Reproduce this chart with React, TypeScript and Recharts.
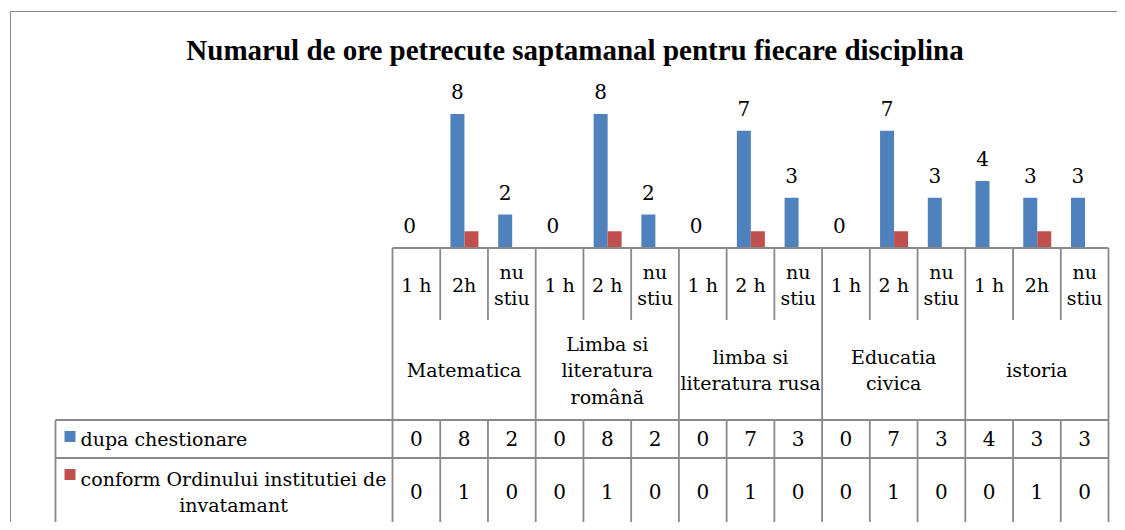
import React from 'react';
import { BarChart, Bar, XAxis, YAxis, LabelList } from 'recharts';

const title = 'Numarul de ore petrecute saptamanal pentru fiecare disciplina';
const groups = ['Matematica', 'Limba si\nliteratura\nromână', 'limba si\nliteratura rusa', 'Educatia\ncivica', 'istoria'];
const subLabels = [
  '1 h', '2h', 'nu\nstiu',
  '1 h', '2 h', 'nu\nstiu',
  '1 h', '2 h', 'nu\nstiu',
  '1 h', '2 h', 'nu\nstiu',
  '1 h', '2h', 'nu\nstiu',
];
const dupaChestionare = [0, 8, 2, 0, 8, 2, 0, 7, 3, 0, 7, 3, 4, 3, 3];
const conformOrdinului = [0, 1, 0, 0, 1, 0, 0, 1, 0, 0, 1, 0, 0, 1, 0];
const seriesNames = ['dupa chestionare', 'conform Ordinului institutiei de\ninvatamant'];

const BLUE = '#4F81BD';
const RED = '#C0504D';
const GRID = '#898989';
const TITLE_FONT = "'Liberation Serif', 'Times New Roman', serif";
const SVG_FONT = 'DejaVu Serif';
const TEXT_SIZE = 19;
const NUM_SIZE = 20;

const data = subLabels.map((label, i) => ({
  id: i,
  label,
  group: groups[Math.floor(i / 3)],
  chest: dupaChestionare[i],
  ordin: conformOrdinului[i],
}));

// rows of the table under the axis, measured from the axis line
const SUB_BOTTOM = 72;
const TABLE_TOP = 172;
const ROW2_TOP = 210;
const TABLE_BOTTOM = 278;
const LEGEND_LEFT = 47.5;
const LINE_H = 26.5;

function Lines({ x, y, text, anchor = 'middle', size = TEXT_SIZE }: any) {
  const parts = text.split('\n');
  const start = y - ((parts.length - 1) * LINE_H) / 2;
  return (
    <>
      {parts.map((p: string, k: number) => (
        <text key={k} x={x} y={start + k * LINE_H} textAnchor={anchor} dominantBaseline="central"
          fontFamily={SVG_FONT} fontSize={size} fill="#000">{p}</text>
      ))}
    </>
  );
}

function TableTick(props: any) {
  const { x, y, payload } = props;
  const i = payload.index;
  const half = payload.offset;
  const left = x - half;
  const right = x + half;
  const row = data[i];
  const line = (x1: number, y1: number, x2: number, y2: number, k: string) => (
    <line key={k} x1={x1} y1={y1} x2={x2} y2={y2} stroke={GRID} strokeWidth={1.8} />
  );
  const els: any[] = [];
  // vertical lines: full height at group edges, broken inside a group
  if (i % 3 === 0) {
    els.push(line(left, y, left, y + TABLE_BOTTOM, 'vl'));
  } else {
    els.push(line(left, y, left, y + SUB_BOTTOM, 'vs'));
    els.push(line(left, y + TABLE_TOP, left, y + TABLE_BOTTOM, 'vt'));
  }
  if (i === data.length - 1) els.push(line(right, y, right, y + TABLE_BOTTOM, 'vr'));
  els.push(line(left, y + TABLE_TOP, right, y + TABLE_TOP, 'h1'));
  els.push(line(left, y + ROW2_TOP, right, y + ROW2_TOP, 'h2'));
  els.push(line(left, y + TABLE_BOTTOM, right, y + TABLE_BOTTOM, 'h3'));

  if (i === 0) {
    els.push(line(LEGEND_LEFT, y + TABLE_TOP, left, y + TABLE_TOP, 'l1'));
    els.push(line(LEGEND_LEFT, y + ROW2_TOP, left, y + ROW2_TOP, 'l2'));
    els.push(line(LEGEND_LEFT, y + TABLE_BOTTOM, left, y + TABLE_BOTTOM, 'l3'));
    els.push(line(LEGEND_LEFT, y + TABLE_TOP, LEGEND_LEFT, y + TABLE_BOTTOM, 'l4'));
  }

  return (
    <g>
      {els}
      <Lines x={x} y={y + 37} text={row.label} />
      {i % 3 === 1 && <Lines x={x} y={y + 122} text={row.group} />}
      <Lines x={x} y={y + (TABLE_TOP + ROW2_TOP) / 2} text={String(row.chest)} size={NUM_SIZE} />
      <Lines x={x} y={y + (ROW2_TOP + TABLE_BOTTOM) / 2} text={String(row.ordin)} size={NUM_SIZE} />
      {i === 0 && (
        <g>
          <rect x={LEGEND_LEFT + 9} y={y + TABLE_TOP + 11} width={11} height={11} fill={BLUE} />
          <Lines x={LEGEND_LEFT + 25} y={y + (TABLE_TOP + ROW2_TOP) / 2} text={seriesNames[0]} anchor="start" />
          <rect x={LEGEND_LEFT + 9} y={y + ROW2_TOP + 11} width={11} height={11} fill={RED} />
          <Lines x={LEGEND_LEFT + 178} y={y + (ROW2_TOP + TABLE_BOTTOM) / 2} text={seriesNames[1]} />
        </g>
      )}
    </g>
  );
}

export default function App() {
  return (
    <div style={{ position: 'relative', width: 1117, height: 522, overflow: 'hidden', marginBottom: -8, background: '#fff' }}>
      <div style={{ position: 'absolute', left: 2, top: 3, width: 1300, height: 700, border: `1.5px solid ${GRID}` }} />
      <div style={{ position: 'absolute', left: 0, top: 25, width: 1134, textAlign: 'center', fontFamily: TITLE_FONT,
        fontWeight: 'bold', fontSize: 29, lineHeight: '34px', color: '#000' }}>{title}</div>
      <div style={{ position: 'absolute', left: 0, top: 0 }}>
        <BarChart width={1117} height={522} data={data} barCategoryGap="21.4%" barGap={0}
          margin={{ top: 106, right: 16.5, left: 384.5, bottom: 0 }}>
          <XAxis dataKey="id" height={282} interval={0} tickLine={false} tickSize={0} tickMargin={0}
            axisLine={{ stroke: GRID, strokeWidth: 1.8 }} tick={<TableTick />} />
          <YAxis hide domain={[0, 8]} />
          <Bar dataKey="chest" fill={BLUE} isAnimationActive={false}
            minPointSize={(v: number) => (v === 0 ? 0.01 : 0)}>
            <LabelList dataKey="chest" position="top" offset={15} fontFamily={SVG_FONT} fontSize={NUM_SIZE} fill="#000" />
          </Bar>
          <Bar dataKey="ordin" fill={RED} isAnimationActive={false} />
        </BarChart>
      </div>
    </div>
  );
}
